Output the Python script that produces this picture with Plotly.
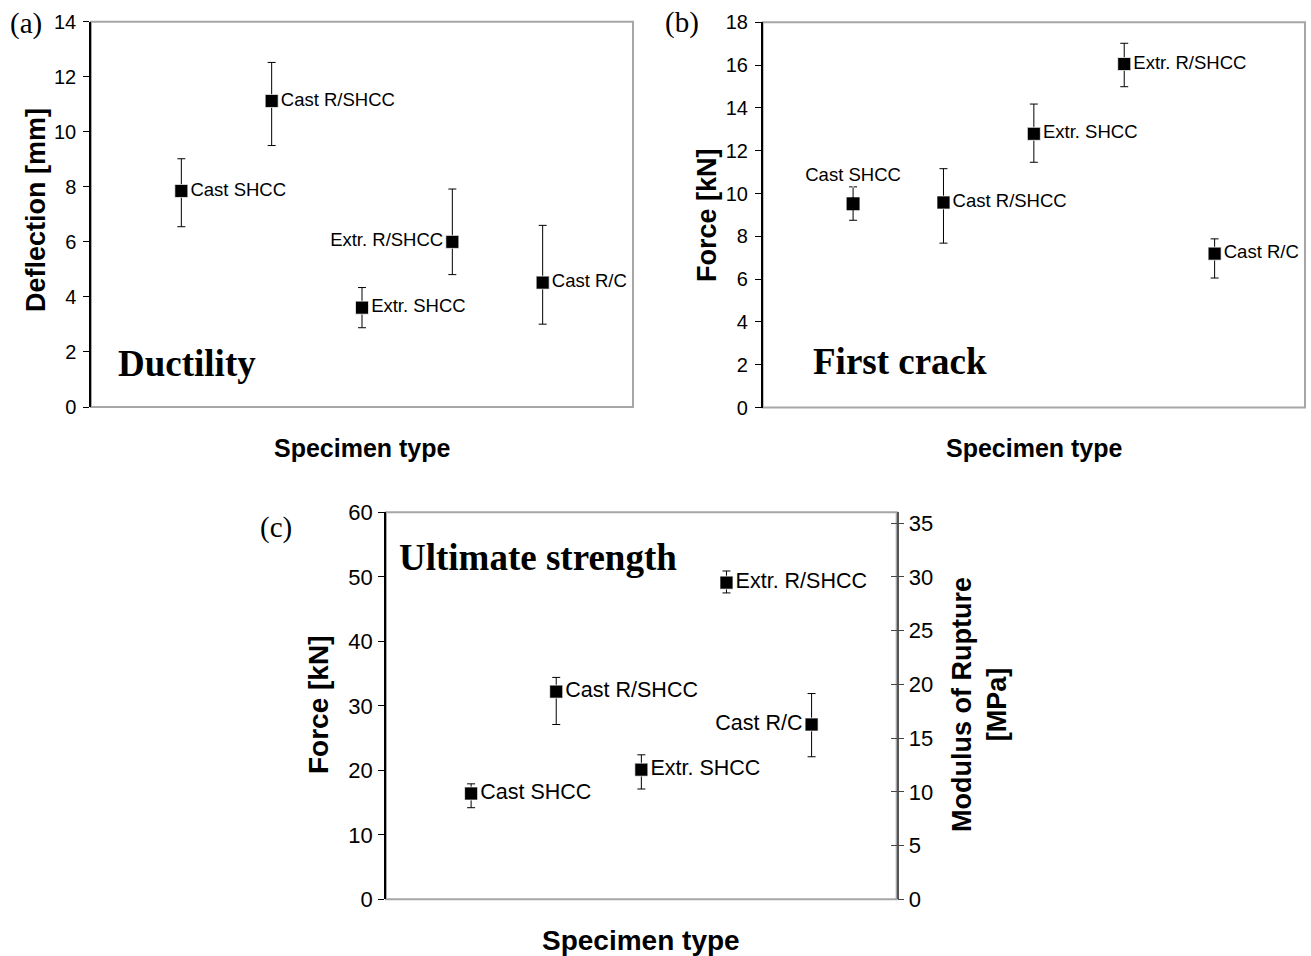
import plotly.graph_objects as go

W, H = 1311, 956

categories = ["Cast SHCC", "Cast R/SHCC", "Extr. SHCC", "Extr. R/SHCC", "Cast R/C"]
x_pos = [1, 2, 3, 4, 5]

# (a) Ductility - deflection [mm]
defl_mean = [7.85, 11.12, 3.61, 6.00, 4.52]
defl_upper = [9.02, 12.52, 4.34, 7.92, 6.60]
defl_lower = [6.55, 9.50, 2.88, 4.81, 3.01]
defl_textpos = ["middle right", "middle right", "middle right", "middle left", "middle right"]

# (b) First crack - force [kN]
crack_mean = [9.52, 9.58, 12.79, 16.05, 7.19]
crack_upper = [10.31, 11.16, 14.18, 17.02, 7.88]
crack_lower = [8.75, 7.68, 11.46, 14.99, 6.05]
crack_textpos = ["top center", "middle right", "middle right", "middle right", "middle right"]

# (c) Ultimate strength - force [kN]
ult_mean = [16.4, 32.2, 20.1, 49.1, 27.1]
ult_upper = [17.9, 34.4, 22.4, 50.9, 31.9]
ult_lower = [14.2, 27.1, 17.1, 47.5, 22.1]
ult_textpos = ["middle right", "middle right", "middle right", "middle right", "middle left"]

FONT = "Arial, Liberation Sans, sans-serif"
SERIF = "Times New Roman, Liberation Serif, serif"


def px_x(p):
    return p / W


def px_y(p):
    return 1 - p / H


panels = {
    "a": dict(x0=91, x1=633, y0=21.7, y1=407.0),
    "b": dict(x0=762.7, x1=1305, y0=22.3, y1=407.5),
    "c": dict(x0=386, x1=896.7, y0=512.3, y1=899.3),
}

fig = go.Figure()
MSIZE = 13


def add_series(mean, upper, lower, textpos, xa, ya, tsize):
    plus = [u - m for u, m in zip(upper, mean)]
    minus = [m - l for m, l in zip(mean, lower)]
    fig.add_trace(go.Scatter(
        x=x_pos, y=mean, mode="markers",
        marker=dict(symbol="square", size=MSIZE, color="black"),
        error_y=dict(type="data", symmetric=False, array=plus, arrayminus=minus,
                     color="black", thickness=1, width=4),
        xaxis=xa, yaxis=ya, showlegend=False, cliponaxis=False,
    ))
    # labels: beside the marker, or above the upper whisker for "top" labels
    is_top = [tp.startswith("top") for tp in textpos]
    label_y = [u if t else m for t, m, u in zip(is_top, mean, upper)]
    label_size = [1 if t else MSIZE for t in is_top]
    fig.add_trace(go.Scatter(
        x=x_pos, y=label_y, mode="markers+text", text=categories,
        textposition=textpos,
        textfont=dict(family=FONT, size=tsize, color="black"),
        marker=dict(symbol="square", size=label_size, color="rgba(0,0,0,0)"),
        xaxis=xa, yaxis=ya, showlegend=False, cliponaxis=False, hoverinfo="skip",
    ))


add_series(defl_mean, defl_upper, defl_lower, defl_textpos, "x", "y", 18.5)
add_series(crack_mean, crack_upper, crack_lower, crack_textpos, "x2", "y2", 18.5)
add_series(ult_mean, ult_upper, ult_lower, ult_textpos, "x3", "y3", 21.5)
# secondary (MOR) axis placeholders
fig.add_trace(go.Scatter(x=[], y=[], xaxis="x3", yaxis="y4", showlegend=False))
fig.add_trace(go.Scatter(x=[], y=[], xaxis="x3", yaxis="y5", showlegend=False))


def xax(p):
    return dict(domain=[px_x(p["x0"]), px_x(p["x1"])], range=[0, 6],
                showline=False, showticklabels=False, ticks="", showgrid=False,
                zeroline=False, fixedrange=True, automargin=False)


def yax(p, rng, dtick, tsize, anchor, standoff):
    return dict(domain=[px_y(p["y1"]), px_y(p["y0"])], range=rng, dtick=dtick,
                showline=True, linecolor="black", linewidth=1.5,
                ticks="outside", ticklen=6, tickwidth=1.2, tickcolor="black",
                tickfont=dict(family=FONT, size=tsize, color="black"),
                ticklabelstandoff=standoff,
                showgrid=False, zeroline=False, anchor=anchor, fixedrange=True,
                automargin=False)


pa, pb, pc = panels["a"], panels["b"], panels["c"]
mor_range = [0, 36]

fig.update_layout(
    width=W, height=H,
    margin=dict(l=0, r=0, t=0, b=0, autoexpand=False),
    paper_bgcolor="white", plot_bgcolor="white",
    xaxis=xax(pa), yaxis=yax(pa, [0, 14], 2, 20, "x", 3),
    xaxis2=xax(pb), yaxis2=yax(pb, [0, 18], 2, 20, "x2", 3),
    xaxis3=xax(pc), yaxis3=yax(pc, [0, 60], 10, 22, "x3", 1),
    yaxis4=dict(overlaying="y3", side="right", anchor="x3", range=mor_range, dtick=5,
                showline=True, linecolor="#555555", linewidth=1.5,
                ticks="outside", ticklen=6, tickwidth=1.2, tickcolor="#444444",
                tickfont=dict(family=FONT, size=22, color="black"),
                showgrid=False, zeroline=False, fixedrange=True, automargin=False),
    yaxis5=dict(overlaying="y3", side="right", anchor="x3", range=mor_range, dtick=5,
                showline=False, ticks="inside", ticklen=6, tickwidth=1.2,
                tickcolor="#444444", showticklabels=False,
                showgrid=False, zeroline=False, fixedrange=True, automargin=False),
)

# plot-area frames (gray), drawn beneath axis lines
for xa, ya in [("x", "y"), ("x2", "y2"), ("x3", "y3")]:
    fig.add_shape(type="rect", xref=f"{xa} domain", yref=f"{ya} domain",
                  x0=0, x1=1, y0=0, y1=1, layer="below",
                  line=dict(color="#a6a6a6", width=2))

annotations = []


def ann(text, x, y, size, family=FONT, angle=0, xanchor="center", bold=True):
    annotations.append(dict(
        text=f"<b>{text}</b>" if bold else text, x=px_x(x), y=px_y(y),
        xref="paper", yref="paper", showarrow=False, textangle=angle,
        xanchor=xanchor, yanchor="middle",
        font=dict(family=family, size=size, color="black")))


# axis titles
ann("Deflection [mm]", 36, 210, 27, angle=-90)
ann("Specimen type", 362, 448, 25)
ann("Force [kN]", 707, 215, 27, angle=-90)
ann("Specimen type", 1034, 448, 25)
ann("Force [kN]", 318, 705, 28, angle=-90)
ann("Specimen type", 641, 940, 28)
ann("Modulus of Rupture<br>[MPa]", 979, 705, 27, angle=-90)

# panel captions
ann("Ductility", 116, 364, 37, family=SERIF, xanchor="left")
ann("First crack", 811, 362, 37, family=SERIF, xanchor="left")
ann("Ultimate strength", 397, 557, 37, family=SERIF, xanchor="left")

# panel letters
ann("(a)", 8, 24, 29, family=SERIF, xanchor="left", bold=False)
ann("(b)", 663, 23, 29, family=SERIF, xanchor="left", bold=False)
ann("(c)", 258, 527, 29, family=SERIF, xanchor="left", bold=False)

fig.update_layout(annotations=annotations)

fig.write_html("out.html")
